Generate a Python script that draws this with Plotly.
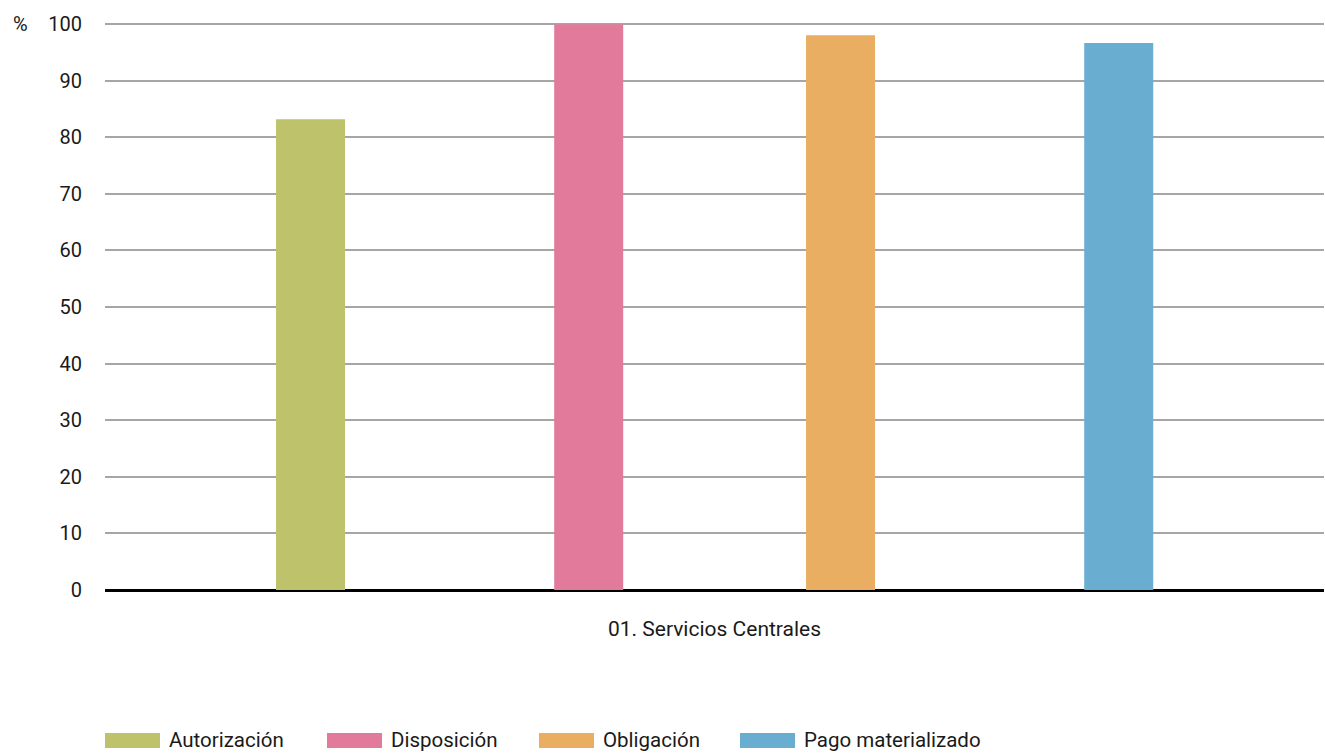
import plotly.graph_objects as go

category = ["01. Servicios Centrales"]
series_names = ["Autorización", "Disposición", "Obligación", "Pago materializado"]
series_values = [[83.2], [100.0], [98.05], [96.65]]
y_ticks = [0, 10, 20, 30, 40, 50, 60, 70, 80, 90, 100]

colors = ["#bec36b", "#e27a9b", "#e9ae62", "#69aed1"]
bar_width = 0.0566
bar_offsets = [-0.3597, -0.1315, 0.0751, 0.3033]

W, H = 1325, 753
ML, MR, MT, MB = 105, 1, 23, 163
pw = W - ML - MR
ph = H - MT - MB
y_top = 100.2

def px_x(p):
    return (p - ML) / pw

def px_y(p):
    return (H - MB - p) / ph

fig = go.Figure()
for name, vals, col, off in zip(series_names, series_values, colors, bar_offsets):
    fig.add_trace(go.Bar(
        x=category, y=vals, name=name, marker=dict(color=col, line=dict(width=0)),
        width=bar_width, offset=off, showlegend=False,
        hovertemplate=name + ": %{y}<extra></extra>",
    ))

font_family = "Roboto, 'DejaVu Sans', sans-serif"
txt_color = "#1a1a1a"

# custom legend (wide swatches like the reference)
legend_swatch_x = [105, 327, 539, 740]
swatch_w = 55
shapes = []
annotations = []
for name, col, sx in zip(series_names, colors, legend_swatch_x):
    shapes.append(dict(type="rect", xref="paper", yref="paper",
                       x0=px_x(sx), x1=px_x(sx + swatch_w), y0=px_y(748), y1=px_y(733),
                       fillcolor=col, line=dict(width=0)))
    annotations.append(dict(text=name, xref="paper", yref="paper",
                            x=px_x(sx + swatch_w + 7), y=px_y(740),
                            xanchor="left", yanchor="middle", showarrow=False,
                            font=dict(family=font_family, size=20.5, color=txt_color)))

annotations.append(dict(text="%", xref="paper", yref="paper", x=px_x(20.5), y=px_y(24),
                        xanchor="center", yanchor="middle", showarrow=False,
                        font=dict(family=font_family, size=20, color=txt_color)))

fig.update_layout(
    width=W, height=H,
    margin=dict(l=ML, r=MR, t=MT, b=MB, pad=0),
    paper_bgcolor="white", plot_bgcolor="white",
    barmode="overlay",
    font=dict(family=font_family, size=20, color=txt_color),
    shapes=shapes, annotations=annotations,
    showlegend=False,
    xaxis=dict(type="category", range=[-0.5, 0.5], showgrid=False, showline=False,
               ticks="", ticklabelstandoff=24, fixedrange=True,
               tickfont=dict(family=font_family, size=21, color=txt_color)),
    yaxis=dict(range=[0, y_top], tickvals=y_ticks, showgrid=True, gridcolor="#a6a6a6",
               gridwidth=2, zeroline=True, zerolinecolor="#000000", zerolinewidth=3,
               showline=False, ticks="", ticklabelstandoff=22, fixedrange=True,
               tickfont=dict(family=font_family, size=20, color=txt_color)),
)

fig.write_html("out.html", config={"displayModeBar": False},
               post_script="document.body.style.margin='0';document.body.style.padding='0';")
